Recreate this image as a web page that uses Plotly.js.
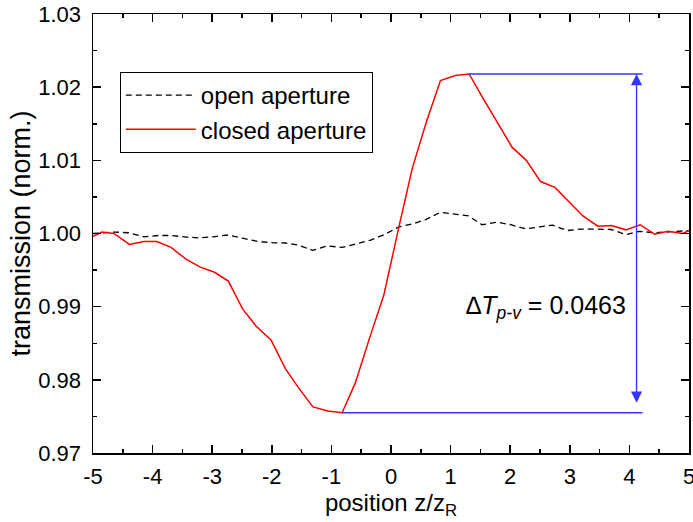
<!DOCTYPE html>
<html>
<head>
<meta charset="utf-8">
<script src="https://cdn.plot.ly/plotly-3.0.1.min.js"></script>
<style>html,body{margin:0;padding:0;background:#fff;}#chart{width:693px;height:522px;}</style>
</head>
<body>
<div id="chart"></div>
<script>
// Open aperture (dashed black)
const openX = [-5.0, -4.85, -4.63, -4.41, -4.15, -3.90, -3.68, -3.43, -3.20, -2.98, -2.73, -2.47, -2.22, -1.97, -1.77, -1.55, -1.31, -1.07, -0.82, -0.58, -0.34, -0.10, 0.13, 0.36, 0.58, 0.83, 1.07, 1.30, 1.53, 1.78, 2.01, 2.26, 2.49, 2.71, 2.96, 3.18, 3.45, 3.69, 3.94, 4.17, 4.42, 4.70, 5.0];
const openY = [1.0000, 1.0001, 1.0002, 1.0001, 0.99955, 0.99973, 0.99973, 0.9995, 0.9994, 0.99955, 0.9998, 0.99932, 0.9989, 0.99873, 0.9987, 0.9984, 0.9977, 0.9983, 0.9981, 0.9986, 0.9991, 0.9999, 1.0009, 1.0013, 1.0019, 1.0029, 1.0026, 1.0024, 1.0012, 1.00155, 1.0012, 1.00064, 1.0009, 1.00114, 1.0004, 1.0006, 1.0006, 1.00055, 0.99986, 1.0003, 1.0001, 1.0002, 1.0004];
// Closed aperture (solid red)
const closedX = [-5.0, -4.85, -4.65, -4.39, -4.15, -3.93, -3.69, -3.44, -3.20, -2.96, -2.73, -2.49, -2.27, -2.01, -1.77, -1.55, -1.31, -1.06, -0.82, -0.60, -0.36, -0.12, 0.13, 0.36, 0.60, 0.83, 1.08, 1.31, 1.55, 1.79, 2.03, 2.27, 2.51, 2.75, 2.99, 3.22, 3.47, 3.70, 3.94, 4.18, 4.42, 4.65, 4.89, 5.0];
const closedY = [0.9996, 1.0002, 1.0000, 0.9985, 0.9989, 0.9989, 0.9981, 0.9965, 0.9954, 0.9947, 0.9935, 0.9897, 0.9874, 0.9854, 0.9815, 0.9789, 0.9763, 0.97575, 0.9755, 0.97955, 0.9857, 0.9916, 1.0008, 1.0090, 1.0154, 1.0209, 1.0216, 1.0218, 1.0184, 1.0150, 1.0118, 1.0100, 1.0071, 1.0063, 1.0043, 1.0024, 1.0010, 1.0011, 1.0005, 1.0012, 0.9999, 1.0003, 1.0000, 1.0004];
const seriesNames = ["open aperture", "closed aperture"];
const xTicks = [-5, -4, -3, -2, -1, 0, 1, 2, 3, 4, 5];
const yTicks = [0.97, 0.98, 0.99, 1.00, 1.01, 1.02, 1.03];
const deltaLabel = "0.0463";

const FONT = "Liberation Sans, Arial, sans-serif";
const BLUE = "#3535ff";

const peakY = Math.max(...closedY);
const peakX = closedX[closedY.indexOf(peakY)];
const valleyY = Math.min(...closedY);
const valleyX = closedX[closedY.indexOf(valleyY)];
const lineEndX = 4.22;
const arrowX = 4.12;

const traces = [
  {x: openX, y: openY, name: seriesNames[0], type: "scatter", mode: "lines",
   line: {color: "#000", width: 1.3, dash: "6px,4px"}},
  {x: closedX, y: closedY, name: seriesNames[1], type: "scatter", mode: "lines",
   line: {color: "#ff0000", width: 1.5}}
];

const axisCommon = {
  showline: true, linecolor: "#000", linewidth: 1.5, mirror: "allticks",
  ticks: "inside", ticklen: 8, tickwidth: 1.5, tickcolor: "#000",
  showgrid: false, zeroline: false,
  tickfont: {family: FONT, size: 22, color: "#000"}
};

const layout = {
  width: 693, height: 522,
  margin: {l: 93, r: 4, t: 14, b: 69},
  paper_bgcolor: "#fff", plot_bgcolor: "#fff",
  showlegend: true,
  xaxis: Object.assign({}, axisCommon, {
    range: [-5, 5], tickvals: xTicks, ticktext: xTicks.map(String),
    ticklabeloverflow: "allow",
    minor: {ticks: "inside", ticklen: 4, tickwidth: 1.5, tickcolor: "#000", dtick: 0.5, tick0: 0},
    ticklabelstandoff: 3,
    title: {text: "position z/z<sub>R</sub>", font: {family: FONT, size: 24, color: "#000"}, standoff: 3}
  }),
  yaxis: Object.assign({}, axisCommon, {
    range: [0.97, 1.03], tickvals: yTicks, ticktext: yTicks.map(v => v.toFixed(2)),
    minor: {ticks: "inside", ticklen: 4, tickwidth: 1.5, tickcolor: "#000", dtick: 0.005, tick0: 0.97},
    ticklabelstandoff: 6,
    title: {text: "transmission (norm.)", font: {family: FONT, size: 27, color: "#000"}, standoff: 0}
  }),
  legend: {
    x: 0.045, y: 0.868, xanchor: "left", yanchor: "top",
    bgcolor: "#fff", bordercolor: "#000", borderwidth: 1,
    font: {family: FONT, size: 24, color: "#000"},
    itemwidth: 70, tracegroupgap: 0
  },
  shapes: [
    {type: "line", xref: "x", yref: "y", x0: peakX, x1: lineEndX, y0: peakY, y1: peakY,
     line: {color: BLUE, width: 1.6}},
    {type: "line", xref: "x", yref: "y", x0: valleyX, x1: lineEndX, y0: valleyY, y1: valleyY,
     line: {color: BLUE, width: 1.6}}
  ],
  annotations: [
    {x: arrowX, y: peakY, ax: arrowX, ay: valleyY, xref: "x", yref: "y", axref: "x", ayref: "y",
     showarrow: true, arrowhead: 2, startarrowhead: 2, arrowside: "end+start",
     arrowsize: 1.6, startarrowsize: 1.6, arrowwidth: 1.4, arrowcolor: BLUE, standoff: 0, startstandoff: 0, text: " "},
    {x: 2.6, y: 0.9900, xref: "x", yref: "y", showarrow: false, xanchor: "center", yanchor: "middle",
     text: "<i>∆T</i><sub><i>p-v</i></sub> = " + deltaLabel,
     font: {family: FONT, size: 25, color: "#000"}}
  ]
};

Plotly.newPlot("chart", traces, layout, {displayModeBar: false, staticPlot: true});
</script>
</body>
</html>
